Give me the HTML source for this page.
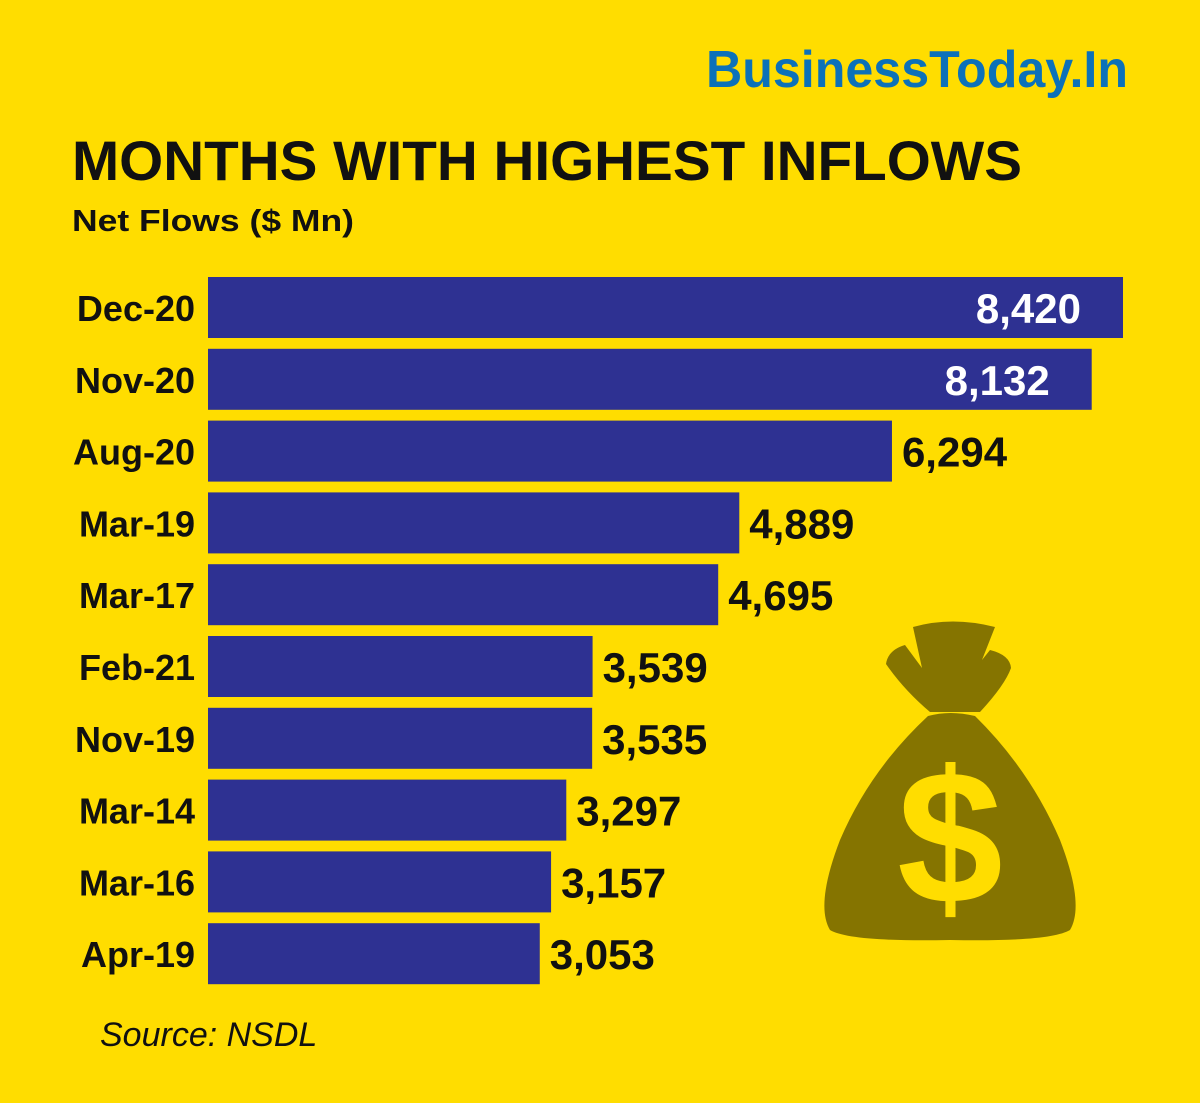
<!DOCTYPE html>
<html><head><meta charset="utf-8"><style>
html,body{margin:0;padding:0;background:#FFDD00;}
svg{display:block;font-family:"Liberation Sans",sans-serif;}
</style></head><body>
<svg id="chart" width="1200" height="1103" viewBox="0 0 1200 1103">
<rect width="1200" height="1103" fill="#FFDD00"/>
<text x="706" y="87" font-size="52" font-weight="bold" fill="#0C71B9" textLength="422" lengthAdjust="spacingAndGlyphs">BusinessToday.In</text>
<text x="72" y="180" font-size="56" font-weight="bold" fill="#111" textLength="950" lengthAdjust="spacingAndGlyphs">MONTHS WITH HIGHEST INFLOWS</text>
<text x="72" y="231" font-size="31" font-weight="bold" fill="#111" textLength="282" lengthAdjust="spacingAndGlyphs">Net Flows ($ Mn)</text>
<g id="bag" fill="#857400">
<path d="M913,627 Q952,616 995,627 L982,660 L990,650 Q1010,655 1011,668 Q1005,685 980,712 L930,712 Q904,690 886,664 Q888,650 905,645 L922,668 Z"/>
<path d="M928,716 Q950,710 975,716 Q1030,770 1060,840 Q1085,905 1070,930 Q1050,942 950,940 Q850,942 830,930 Q815,905 840,840 Q870,770 928,716 Z"/>
<text x="950" y="903" font-size="190" font-weight="bold" fill="#FFDD00" text-anchor="middle">$</text>
</g>
<g id="bars"></g>
<text x="100" y="1046" font-size="34" font-style="italic" fill="#111">Source: NSDL</text>
</svg>
<script>
const categories=["Dec-20","Nov-20","Aug-20","Mar-19","Mar-17","Feb-21","Nov-19","Mar-14","Mar-16","Apr-19"];
const values=[8420,8132,6294,4889,4695,3539,3535,3297,3157,3053];
const valueLabels=["8,420","8,132","6,294","4,889","4,695","3,539","3,535","3,297","3,157","3,053"];
const NS="http://www.w3.org/2000/svg";
const x0=208, scale=915/8420;
const xs=v=>x0+v*scale;
const ys=i=>277+i*71.8;
const g=document.getElementById('bars');
categories.forEach((c,i)=>{
  const y=ys(i), w=xs(values[i])-x0;
  const r=document.createElementNS(NS,'rect');
  r.setAttribute('x',x0);r.setAttribute('y',y);r.setAttribute('width',w);r.setAttribute('height',61);
  r.setAttribute('fill','#2E3192');
  
  
  g.appendChild(r);
  const t=document.createElementNS(NS,'text');
  t.setAttribute('x',195);t.setAttribute('y',y+44);t.setAttribute('text-anchor','end');
  t.setAttribute('font-size','36');t.setAttribute('font-weight','bold');t.setAttribute('fill','#111');
  t.textContent=c;
  
  
  g.appendChild(t);
  const v=document.createElementNS(NS,'text');
  const inside=values[i]>7000;
  v.setAttribute('x',inside?xs(values[i])-42:xs(values[i])+10);
  v.setAttribute('y',y+46);
  v.setAttribute('text-anchor',inside?'end':'start');
  v.setAttribute('font-size','42');v.setAttribute('font-weight','bold');
  v.setAttribute('fill',inside?'#fff':'#111');
  v.textContent=valueLabels[i];
  
  
  g.appendChild(v);
});
</script>
</body></html>
